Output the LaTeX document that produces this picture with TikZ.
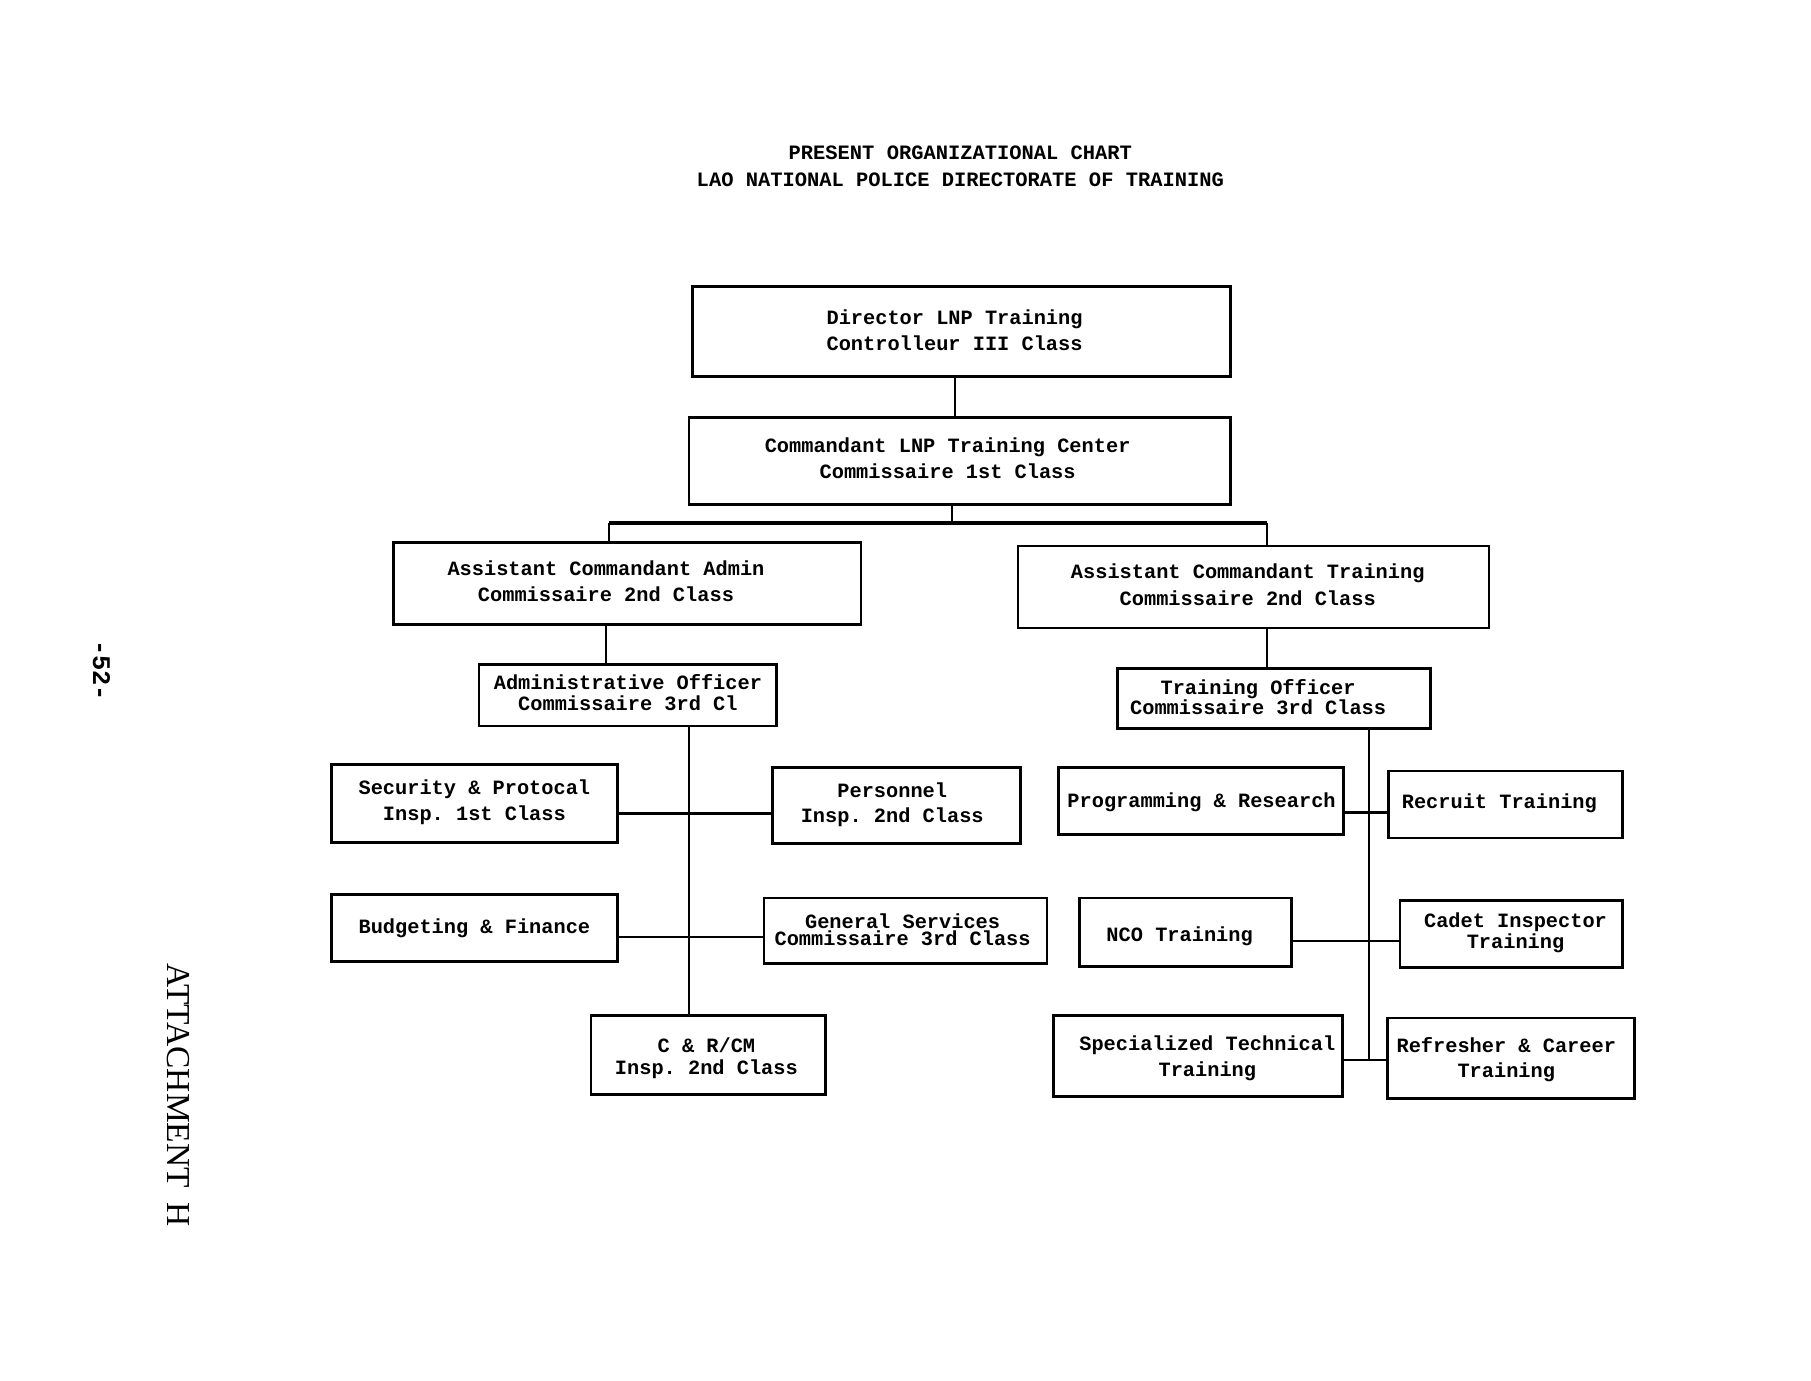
\documentclass[tikz,border=0pt]{standalone}
\usepackage{fontspec}
\setmainfont{Liberation Serif}
\setmonofont{Liberation Mono}
\begin{document}
\begin{tikzpicture}[x=0.5pt,y=-0.5pt,
  box/.style={draw, line width=1.2pt, inner sep=0pt},
  txt/.style={font=\ttfamily\bfseries\fontsize{8.8}{11}\selectfont, align=center, inner sep=0pt},
  link/.style={line width=0.9pt},
  heavylink/.style={line width=1.5pt}]
\fill[white] (0,0) rectangle (1569,1195.6);
\useasboundingbox (0,0) rectangle (1569,1195.6);

% title
\node[txt, font=\ttfamily\bfseries\fontsize{8.85}{11.5}\selectfont] (title) at (832,144)
  {PRESENT ORGANIZATIONAL CHART\\LAO NATIONAL POLICE DIRECTORATE OF TRAINING};

% side texts
\node[font=\ttfamily\bfseries\fontsize{11}{13}\selectfont, rotate=-90, inner sep=0pt] (page) at (88,581) {-52-};
\node[font=\fontsize{14.5}{16}\selectfont, rotate=-90, inner sep=0pt] (att) at (155,949) {ATTACHMENT\hspace{0.45em}H};

% boxes
\node[box, minimum width=233pt, minimum height=39pt] (dir) at (833,287) {};
\node[box, minimum width=234.5pt, minimum height=37.5pt] (com) at (831.5,399.5) {};
\node[box, minimum width=202.5pt, minimum height=35.5pt] (aca) at (543.5,505.5) {};
\node[box, minimum width=204pt, minimum height=35.5pt] (act) at (1086,508.5) {};
\node[box, minimum width=129pt, minimum height=26.5pt] (ado) at (544,602.5) {};
\node[box, minimum width=135.5pt, minimum height=26pt] (tro) at (1103.5,605) {};
\node[box, minimum width=124pt, minimum height=34pt] (sec) at (411,696) {};
\node[box, minimum width=107.5pt, minimum height=33pt] (per) at (776.5,698) {};
\node[box, minimum width=124pt, minimum height=29pt] (bud) at (411,804) {};
\node[box, minimum width=122.5pt, minimum height=28.5pt] (gen) at (784.5,806.5) {};
\node[box, minimum width=101.5pt, minimum height=34pt] (crc) at (613.5,914) {};
\node[box, minimum width=123.5pt, minimum height=29pt] (prg) at (1040.5,694) {};
\node[box, minimum width=101.5pt, minimum height=29pt] (rec) at (1304.5,697) {};
\node[box, minimum width=92pt, minimum height=29.5pt] (nco) at (1027,807.5) {};
\node[box, minimum width=96.5pt, minimum height=29pt] (cad) at (1309.5,809) {};
\node[box, minimum width=125pt, minimum height=35pt] (spe) at (1038,915) {};
\node[box, minimum width=107pt, minimum height=35pt] (ref) at (1309,917) {};

% texts
\node[txt] (tdir) at (827,286) {Director LNP Training\\Controlleur III Class};
\node[txt] (tcom) at (821,397) {Commandant LNP Training Center\\Commissaire 1st Class};
\node[txt, font=\ttfamily\bfseries\fontsize{8.8}{11.5}\selectfont] (taca) at (525,503.5) {Assistant Commandant Admin\\Commissaire 2nd Class};
\node[txt, font=\ttfamily\bfseries\fontsize{8.8}{11.5}\selectfont] (tact) at (1081,506.5) {Assistant Commandant Training\\Commissaire 2nd Class};
\node[txt, font=\ttfamily\bfseries\fontsize{8.8}{9}\selectfont] (tado) at (544,600) {Administrative Officer\\Commissaire 3rd Cl};
\node[txt, font=\ttfamily\bfseries\fontsize{8.8}{9}\selectfont] (ttro) at (1090,604) {Training Officer\\Commissaire 3rd Class};
\node[txt] (tsec) at (411,695) {Security \& Protocal\\Insp. 1st Class};
\node[txt] (tper) at (773,697) {Personnel\\Insp. 2nd Class};
\node[txt] (tbud) at (411,804) {Budgeting \& Finance};
\node[txt, font=\ttfamily\bfseries\fontsize{8.8}{7.5}\selectfont] (tgen) at (782,805.5) {General Services\\Commissaire 3rd Class};
\node[txt, font=\ttfamily\bfseries\fontsize{8.8}{9.5}\selectfont] (tcrc) at (612,916.5) {C \& R/CM\\Insp. 2nd Class};
\node[txt] (tprg) at (1041,695) {Programming \& Research};
\node[txt] (trec) at (1299,696) {Recruit Training};
\node[txt] (tnco) at (1022,811) {NCO Training};
\node[txt, font=\ttfamily\bfseries\fontsize{8.8}{7}\selectfont] (tcad) at (1313,808) {Cadet Inspector\\Training};
\node[txt] (tspe) at (1046,917) {Specialized Technical\\Training};
\node[txt] (tref) at (1305,918) {Refresher \& Career\\Training};

% helper coordinates
\coordinate (c1) at (827,0);
\coordinate (bus) at (825,453);
\coordinate (ba) at (528,453);
\coordinate (bt) at (1098,453);
\coordinate (la) at (525,0);
\coordinate (lt) at (1098,0);
\coordinate (sl) at (597,0);
\coordinate (sr) at (1186,0);
\coordinate (h1) at (0,705);
\coordinate (h2) at (0,812);
\coordinate (h3) at (0,704);
\coordinate (h4) at (0,815);
\coordinate (h5) at (0,918);

% connectors
\draw[link] (dir.south -| c1) -- (com.north -| c1);
\draw[link] (com.south -| bus) -- (bus);
\draw[heavylink] (ba) -- (bt);
\draw[link] (ba) -- (aca.north -| ba);
\draw[link] (bt) -- (act.north -| bt);
\draw[link] (aca.south -| la) -- (ado.north -| la);
\draw[link] (act.south -| lt) -- (tro.north -| lt);
\draw[link] (ado.south -| sl) -- (crc.north -| sl);
\draw[heavylink] (sec.east |- h1) -- (per.west |- h1);
\draw[link] (bud.east |- h2) -- (gen.west |- h2);
\draw[link] (tro.south -| sr) -- (sr |- h5);
\draw[heavylink] (prg.east |- h3) -- (rec.west |- h3);
\draw[link] (nco.east |- h4) -- (cad.west |- h4);
\draw[link] (spe.east |- h5) -- (ref.west |- h5);
\end{tikzpicture}
\end{document}
